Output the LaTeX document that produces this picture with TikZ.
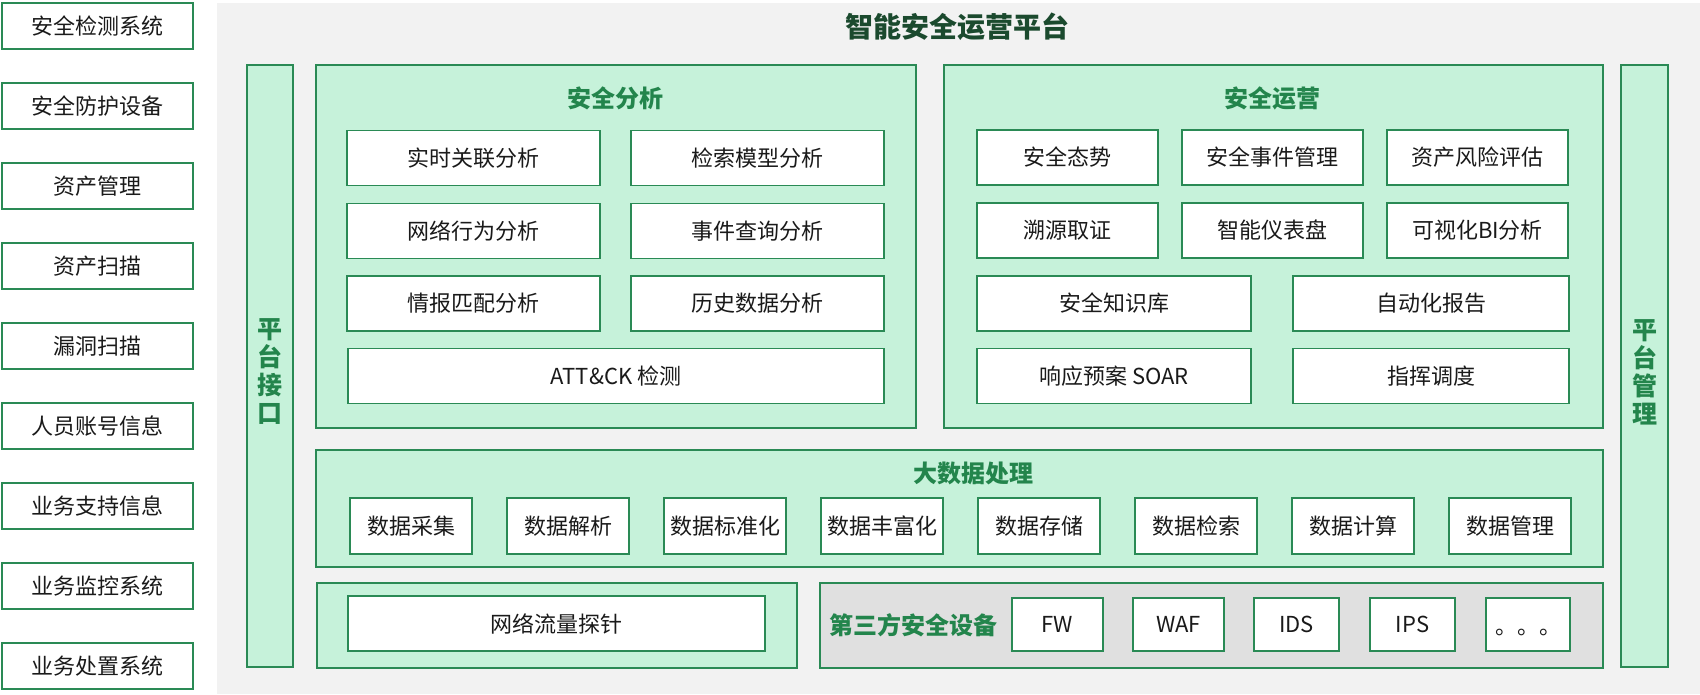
\documentclass[tikz,border=0pt]{standalone}
\usepackage{fontspec}
\setmainfont{Noto Sans CJK SC}
\usepackage{xcolor}
\usepackage{tikz}
\definecolor{lineg}{HTML}{2A8A55}
\definecolor{fillg}{HTML}{C6F2DA}
\definecolor{titleg}{HTML}{23854C}
\definecolor{darkg}{HTML}{1B4A2E}
\definecolor{bgg}{HTML}{F2F2F2}
\definecolor{grayp}{HTML}{E0E0E0}
\definecolor{txt}{HTML}{1A1A1A}

\begin{document}
\begin{tikzpicture}[x=1pt, y=-1pt,
textbox/.style={font=\fontsize{22}{26}\selectfont, text=txt, draw=lineg, fill=white, line width=1.8pt, inner sep=0, minimum height=55, align=center},
panel/.style={draw=lineg, fill=fillg, line width=1.8pt, inner sep=0},
paneltitle/.style={font=\fontsize{24}{28}\selectfont\bfseries, text=titleg, inner sep=0},
sidebar/.style={font=\fontsize{25}{28}\selectfont\bfseries, text=titleg, inner sep=0, align=center}]
\useasboundingbox (0,0) rectangle (1700,694);
\node[fill=bgg, minimum width=1483, minimum height=691, inner sep=0] (bg) at (958.5,348.5) {};
%left column
\node[textbox, minimum width=191, minimum height=46] (s1) at (97.5,26) {安全检测系统};
\node[textbox, minimum width=191, minimum height=46] (s2) at (97.5,106) {安全防护设备};
\node[textbox, minimum width=191, minimum height=46] (s3) at (97.5,186) {资产管理};
\node[textbox, minimum width=191, minimum height=46] (s4) at (97.5,266) {资产扫描};
\node[textbox, minimum width=191, minimum height=46] (s5) at (97.5,346) {漏洞扫描};
\node[textbox, minimum width=191, minimum height=46] (s6) at (97.5,426) {人员账号信息};
\node[textbox, minimum width=191, minimum height=46] (s7) at (97.5,506) {业务支持信息};
\node[textbox, minimum width=191, minimum height=46] (s8) at (97.5,586) {业务监控系统};
\node[textbox, minimum width=191, minimum height=46] (s9) at (97.5,666) {业务处置系统};
\node[font=\fontsize{28}{32}\selectfont\bfseries, text=darkg, inner sep=0] (title) at (957,27) {智能安全运营平台};
%side bars
\node[panel, minimum width=46, minimum height=602] (api) at (270,366) {};
\node[sidebar] (apit) at (270,372) {平\\台\\接\\口};
\node[panel, minimum width=47, minimum height=602] (mgmt) at (1644.5,366) {};
\node[sidebar] (mgmtt) at (1644.5,372) {平\\台\\管\\理};
%analysis
\node[panel, minimum width=600, minimum height=363] (ana) at (616,246.5) {};
\node[paneltitle] (anat) at (615.5,98) {安全分析};
\node[textbox, minimum width=253] (a1) at (473.5,158) {实时关联分析};
\node[textbox, minimum width=253] (a2) at (757.5,158) {检索模型分析};
\node[textbox, minimum width=253] (a3) at (473.5,231) {网络行为分析};
\node[textbox, minimum width=253] (a4) at (757.5,231) {事件查询分析};
\node[textbox, minimum width=253] (a5) at (473.5,303.5) {情报匹配分析};
\node[textbox, minimum width=253] (a6) at (757.5,303.5) {历史数据分析};
\node[textbox, minimum width=536] (a7) at (616,376) {ATT\&CK 检测};
%operations
\node[panel, minimum width=659, minimum height=363] (ops) at (1273.5,246.5) {};
\node[paneltitle] (opst) at (1272,98) {安全运营};
\node[textbox, minimum width=181] (o1) at (1067.5,157.5) {安全态势};
\node[textbox, minimum width=181] (o2) at (1272.5,157.5) {安全事件管理};
\node[textbox, minimum width=181] (o3) at (1477.5,157.5) {资产风险评估};
\node[textbox, minimum width=181] (o4) at (1067.5,230.5) {溯源取证};
\node[textbox, minimum width=181] (o5) at (1272.5,230.5) {智能仪表盘};
\node[textbox, minimum width=181] (o6) at (1477.5,230.5) {可视化BI分析};
\node[textbox, minimum width=274] (o7) at (1114,303.5) {安全知识库};
\node[textbox, minimum width=276] (o8) at (1431,303.5) {自动化报告};
\node[textbox, minimum width=274] (o9) at (1114,376) {响应预案 SOAR};
\node[textbox, minimum width=276] (o10) at (1431,376) {指挥调度};
%big data
\node[panel, minimum width=1287, minimum height=117] (bd) at (959.5,508.5) {};
\node[paneltitle] (bdt) at (973,473) {大数据处理};
\node[textbox, minimum width=122, minimum height=56] (d1) at (411,526) {数据采集};
\node[textbox, minimum width=122, minimum height=56] (d2) at (568,526) {数据解析};
\node[textbox, minimum width=122, minimum height=56] (d3) at (725,526) {数据标准化};
\node[textbox, minimum width=122, minimum height=56] (d4) at (882,526) {数据丰富化};
\node[textbox, minimum width=122, minimum height=56] (d5) at (1039,526) {数据存储};
\node[textbox, minimum width=122, minimum height=56] (d6) at (1196,526) {数据检索};
\node[textbox, minimum width=122, minimum height=56] (d7) at (1353,526) {数据计算};
\node[textbox, minimum width=122, minimum height=56] (d8) at (1510,526) {数据管理};
%bottom
\node[panel, minimum width=480, minimum height=85] (probe) at (557,625.5) {};
\node[textbox, minimum width=417] (p1) at (556.5,623.5) {网络流量探针};
\node[panel, fill=grayp, minimum width=783, minimum height=85] (third) at (1211.5,625.5) {};
\node[paneltitle] (thirdt) at (913,625) {第三方安全设备};
\node[textbox, minimum width=91, minimum height=53] (t1) at (1057.5,624.5) {FW};
\node[textbox, minimum width=91, minimum height=53] (t2) at (1178.5,624.5) {WAF};
\node[textbox, minimum width=85, minimum height=53] (t3) at (1296.5,624.5) {IDS};
\node[textbox, minimum width=85, minimum height=53] (t4) at (1412.5,624.5) {IPS};
\node[textbox, minimum width=84, minimum height=53] (t5) at (1528,624.5) {\raisebox{-10pt}[0pt][0pt]{。。。}};
\end{tikzpicture}
\end{document}
